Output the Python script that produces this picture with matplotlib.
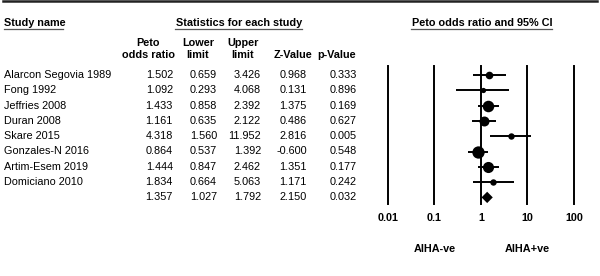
"""
Forest plot of Peto odds ratios (AIHA-ve vs AIHA+ve)
"""
import numpy as np
import matplotlib
matplotlib.use("Agg")
import matplotlib.pyplot as plt
from matplotlib.lines import Line2D

plt.rcParams["font.family"] = ["Liberation Sans", "DejaVu Sans"]
plt.rcParams["font.size"] = 7.8

studies = ["Alarcon Segovia 1989", "Fong 1992", "Jeffries 2008", "Duran 2008",
           "Skare 2015", "Gonzales-N 2016", "Artim-Esem 2019", "Domiciano 2010"]
odds_ratio = [1.502, 1.092, 1.433, 1.161, 4.318, 0.864, 1.444, 1.834]
lower = [0.659, 0.293, 0.858, 0.635, 1.560, 0.537, 0.847, 0.664]
upper = [3.426, 4.068, 2.392, 2.122, 11.952, 1.392, 2.462, 5.063]
z_value = [0.968, 0.131, 1.375, 0.486, 2.816, -0.600, 1.351, 1.171]
p_value = [0.333, 0.896, 0.169, 0.627, 0.005, 0.548, 0.177, 0.242]

# pooled result
pooled = [1.357, 1.027, 1.792, 2.150, 0.032]

axis_ticks = [0.01, 0.1, 1, 10, 100]
axis_labels = ["0.01", "0.1", "1", "10", "100"]
side_labels = ["AIHA-ve", "AIHA+ve"]


def row_y(i):
    """pixel row centre"""
    return 75 + 15.3 * i


def draw():
    fig = plt.figure(figsize=(6, 2.76), dpi=100)

    # text layer in pixel coordinates
    ax_t = fig.add_axes([0, 0, 1, 1])
    ax_t.set_xlim(0, 600)
    ax_t.set_ylim(276, 0)
    ax_t.axis("off")

    ax_t.add_line(Line2D([3, 597], [1, 1], color="#222222", lw=1.8))

    # section headers with underline
    headers = [("Study name", 4, "left", 4, 63),
               ("Statistics for each study", 239, "center", 175, 302),
               ("Peto odds ratio and 95% CI", 482, "center", 411, 552)]
    for txt, x, ha, u0, u1 in headers:
        ax_t.text(x, 22.5, txt, ha=ha, va="center", fontweight="bold")
        ax_t.add_line(Line2D([u0, u1], [28.5, 28.5], color="#555555", lw=0.9))

    col_right = [173, 217, 261, 307, 357]
    col_heads = [("Peto", "odds ratio"), ("Lower", "limit"), ("Upper", "limit"),
                 ("", "Z-Value"), ("", "p-Value")]
    col_centre = [148, 198, 243, 293, 337]
    for (h1, h2), xc in zip(col_heads, col_centre):
        if h1:
            ax_t.text(xc, 42.5, h1, ha="center", va="center", fontweight="bold")
        ax_t.text(xc, 55, h2, ha="center", va="center", fontweight="bold")

    rows = list(zip(odds_ratio, lower, upper, z_value, p_value))
    for i, name in enumerate(studies):
        ax_t.text(4, row_y(i), name, ha="left", va="center")
        for v, xr in zip(rows[i], col_right):
            ax_t.text(xr, row_y(i), f"{v:.3f}", ha="right", va="center")
    for v, xr in zip(pooled, col_right):
        ax_t.text(xr, row_y(len(studies)), f"{v:.3f}", ha="right", va="center")

    # forest panel
    ax_f = fig.add_axes([388 / 600, (276 - 204) / 276, 186 / 600, 138 / 276])
    ax_f.set_xscale("log")
    ax_f.set_xlim(0.01, 100)
    ax_f.set_ylim((204 - 75) / 15.3, (66 - 75) / 15.3)
    ax_f.axis("off")
    ax_f.patch.set_alpha(0)

    for t in axis_ticks:
        ax_f.axvline(t, color="black", lw=1.4, clip_on=False)

    lo = np.array(lower)
    hi = np.array(upper)
    se = (np.log(hi) - np.log(lo)) / 3.92
    weight = 1 / se**2
    ypos = np.arange(len(studies))
    ax_f.hlines(ypos, lo, hi, color="black", lw=1.4)
    for y, orv, w in zip(ypos, odds_ratio, weight):
        ms = 0.72 * (2.7 * np.sqrt(w) + 1.2)
        ax_f.plot(orv, y, "o", color="black", ms=ms, mew=0)

    # pooled diamond
    yd = len(studies)
    ax_f.fill([pooled[1], pooled[0], pooled[2], pooled[0]],
              [yd, yd - 0.37, yd, yd + 0.37], color="black", lw=0)

    trans = ax_f.get_xaxis_transform()
    for t, lab in zip(axis_ticks, axis_labels):
        ax_f.text(t, -0.1, lab, transform=trans, ha="center", va="center",
                  fontweight="bold")
    for t, lab in zip([0.1, 10], side_labels):
        ax_f.text(t, -0.326, lab, transform=trans, ha="center", va="center",
                  fontweight="bold")

    fig.savefig("out.png", dpi=100)


def main():
    draw()


if __name__ == "__main__":
    main()
